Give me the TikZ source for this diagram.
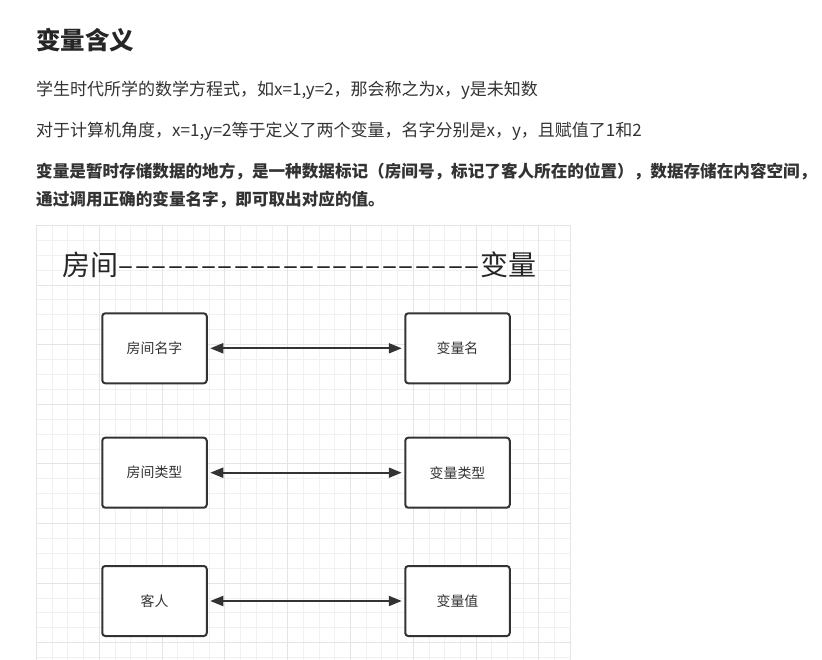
\documentclass[tikz,border=0pt]{standalone}
\usepackage{fontspec}
\setmainfont{Noto Sans CJK SC}
\usetikzlibrary{arrows.meta}
\definecolor{ink}{HTML}{333333}
\definecolor{gridminor}{HTML}{F1F1F1}
\definecolor{gridmajor}{HTML}{E4E4E4}
\begin{document}
\begin{tikzpicture}[x=1pt,y=-1pt,
  txt/.style={anchor=west,inner sep=0pt,text=ink,font=\fontsize{17}{20}\selectfont},
  boldtxt/.style={txt,font=\fontsize{16.6}{20}\selectfont\bfseries},
  titletxt/.style={anchor=west,inner sep=0pt,text=black!85,font=\fontsize{24.5}{28}\selectfont\bfseries},
  bigtxt/.style={anchor=west,inner sep=0pt,text=black!85,font=\fontsize{28}{32}\selectfont},
  box/.style={draw=ink,line width=2pt,rounded corners=3pt,fill=white,minimum width=104.5pt,minimum height=70pt,inner sep=0pt,text=ink,font=\fontsize{13.9}{16}\selectfont},
  link/.style={draw=ink,line width=2pt,{Triangle[length=13pt,width=10pt]}-{Triangle[length=13pt,width=10pt]},shorten <=2.5pt,shorten >=2.5pt}
]
\useasboundingbox (0,0) rectangle (822,660);
\fill[white] (0,0) rectangle (822,660);
% grid
\foreach \i in {0,...,34} \draw[gridminor,line width=1pt] ({36.5+\i*15.7},225.5) -- ({36.5+\i*15.7},660);
\foreach \j in {0,...,29} \draw[gridminor,line width=1pt] (36.5,{225.5+\j*14.9}) -- (570.3,{225.5+\j*14.9});
\foreach \i in {0,4,...,32} \draw[gridmajor,line width=1pt] ({36.5+\i*15.7},225.5) -- ({36.5+\i*15.7},660);
\foreach \j in {0,4,...,28} \draw[gridmajor,line width=1pt] (36.5,{225.5+\j*14.9}) -- (570.3,{225.5+\j*14.9});
\draw[gridmajor,line width=1pt] (570.3,225.5) -- (570.3,660);
% texts
\node[titletxt] (title) at (36,40) {变量含义};
\node[txt] (l1) at (36,90) {学生时代所学的数学方程式，如x=1,y=2，那会称之为x，y是未知数};
\node[txt] (l2) at (36,131) {对于计算机角度，x=1,y=2等于定义了两个变量，名字分别是x，y，且赋值了1和2};
\node[boldtxt] (l3) at (36,172) {变量是暂时存储数据的地方，是一种数据标记（房间号，标记了客人所在的位置），数据存储在内容空间，};
\node[boldtxt] (l4) at (36,200) {通过调用正确的变量名字，即可取出对应的值。};
\node[bigtxt] (head) at (62,265) {房间\hbox to 362pt{\xleaders\hbox to 16.45pt{\hss–\hss}\hfill}变量};
% boxes
\node[box] (a1) at (154.5,348.3) {房间名字};
\node[box] (b1) at (457.5,348.3) {变量名};
\node[box] (a2) at (154.5,472.7) {房间类型};
\node[box] (b2) at (457.5,472.7) {变量类型};
\node[box] (a3) at (154.5,601) {客人};
\node[box] (b3) at (457.5,601) {变量值};
\draw[link] (a1) -- (b1);
\draw[link] (a2) -- (b2);
\draw[link] (a3) -- (b3);
\end{tikzpicture}
\end{document}
